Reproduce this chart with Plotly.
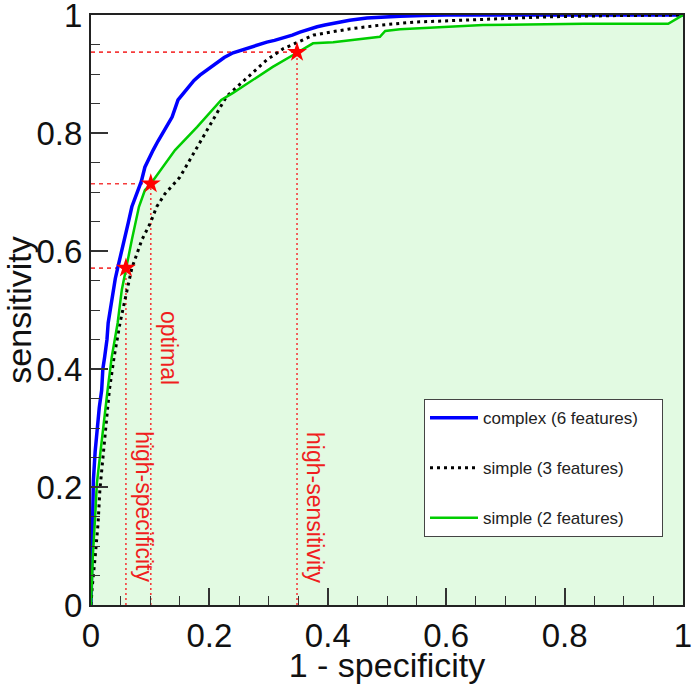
import plotly.graph_objects as go

# ---- data ----
complex_fpr = [0, 0.001, 0.002, 0.004, 0.007, 0.010, 0.014, 0.018, 0.020, 0.023, 0.027, 0.029, 0.033, 0.037,
               0.041, 0.045, 0.051, 0.057, 0.063, 0.069, 0.075, 0.080, 0.085, 0.091, 0.098, 0.105, 0.113,
               0.122, 0.130, 0.137, 0.142, 0.147, 0.155, 0.164, 0.174, 0.184, 0.197, 0.21, 0.225, 0.24,
               0.255, 0.269, 0.283, 0.297, 0.31, 0.324, 0.34, 0.353, 0.368, 0.382, 0.395, 0.409, 0.437,
               0.466, 0.494, 0.522, 0.56, 0.6, 1.0]
complex_tpr = [0, 0.08, 0.15, 0.21, 0.26, 0.30, 0.335, 0.364, 0.40, 0.42, 0.45, 0.478, 0.505, 0.534,
               0.553, 0.571, 0.595, 0.619, 0.648, 0.675, 0.692, 0.705, 0.718, 0.742, 0.758, 0.771, 0.786,
               0.800, 0.815, 0.827, 0.842, 0.856, 0.866, 0.878, 0.889, 0.898, 0.908, 0.918, 0.928, 0.936,
               0.941, 0.946, 0.950, 0.954, 0.957, 0.961, 0.966, 0.971, 0.976, 0.980, 0.983, 0.986, 0.991,
               0.995, 0.997, 0.998, 0.999, 1.0, 1.0]

simple3_fpr = [0, 0.002, 0.007, 0.012, 0.015, 0.020, 0.025, 0.031, 0.039, 0.049, 0.061, 0.069, 0.086,
               0.100, 0.111, 0.125, 0.150, 0.179, 0.206, 0.229, 0.263, 0.297, 0.325, 0.348, 0.376, 0.434,
               0.49, 0.547, 0.66, 0.775, 0.89, 1.0]
simple3_tpr = [0, 0.03, 0.081, 0.139, 0.195, 0.251, 0.308, 0.364, 0.42, 0.478, 0.534, 0.571, 0.619,
               0.647, 0.675, 0.697, 0.725, 0.776, 0.822, 0.862, 0.893, 0.924, 0.943, 0.954, 0.966, 0.976,
               0.983, 0.988, 0.993, 0.997, 0.999, 1.0]

simple2_fpr = [0, 0.003, 0.007, 0.010, 0.015, 0.021, 0.028, 0.035, 0.045, 0.052, 0.059, 0.069, 0.081,
               0.091, 0.101, 0.142, 0.179, 0.22, 0.24, 0.28, 0.307, 0.348, 0.375, 0.409, 0.488, 0.497,
               0.522, 0.662, 0.833, 0.975, 1.0]
simple2_tpr = [0, 0.081, 0.15, 0.207, 0.251, 0.308, 0.364, 0.42, 0.478, 0.534, 0.571, 0.619, 0.675,
               0.703, 0.714, 0.771, 0.81, 0.856, 0.868, 0.895, 0.912, 0.936, 0.952, 0.954, 0.963, 0.973,
               0.976, 0.983, 0.985, 0.985, 1.0]

op_names = ["high-specificity", "optimal", "high-sensitivity"]
op_fpr = [0.059, 0.101, 0.348]
op_tpr = [0.571, 0.714, 0.937]
op_label_y = [0.166, 0.436, 0.166]

series_names = ["complex (6 features)", "simple (3 features)", "simple (2 features)"]

tick_vals = [0, 0.2, 0.4, 0.6, 0.8, 1]
tick_text = ["0", "0.2", "0.4", "0.6", "0.8", "1"]

RED = "rgb(245,60,60)"
FONT = "Liberation Sans, Arial, sans-serif"
PAD = "\u00a0" * 4  # right padding inside the legend box

fig = go.Figure()

# green fill under the 2-feature curve
fig.add_trace(go.Scatter(x=simple2_fpr, y=simple2_tpr, mode="lines", line=dict(width=0),
                         fill="tozeroy", fillcolor="rgb(226,250,226)", showlegend=False,
                         hoverinfo="skip"))

# reference lines to operating points
vx, vy, hx, hy = [], [], [], []
for fx, ty in zip(op_fpr, op_tpr):
    vx += [fx, fx, None]
    vy += [0, ty, None]
    hx += [0, fx, None]
    hy += [ty, ty, None]
fig.add_trace(go.Scatter(x=vx, y=vy, mode="lines", line=dict(color=RED, width=1.6, dash="2px,3px"),
                         showlegend=False, hoverinfo="skip"))
fig.add_trace(go.Scatter(x=hx, y=hy, mode="lines", line=dict(color=RED, width=1.6, dash="4px,4px"),
                         showlegend=False, hoverinfo="skip"))

fig.add_trace(go.Scatter(x=complex_fpr, y=complex_tpr, mode="lines", name=series_names[0] + PAD,
                         line=dict(color="rgb(0,0,255)", width=3.5), legendgroup="a"))
fig.add_trace(go.Scatter(x=simple3_fpr, y=simple3_tpr, mode="lines", name=series_names[1] + PAD,
                         line=dict(color="black", width=3, dash="3px,4px"), legendgroup="b"))
fig.add_trace(go.Scatter(x=simple2_fpr, y=simple2_tpr, mode="lines", name=series_names[2] + PAD,
                         line=dict(color="rgb(0,205,0)", width=2.5), legendgroup="c"))

fig.add_trace(go.Scatter(x=op_fpr, y=op_tpr, mode="markers", showlegend=False,
                         marker=dict(symbol="star", size=15, color="rgb(255,0,0)", line=dict(width=0))))

for name, fx, ly in zip(op_names, op_fpr, op_label_y):
    fig.add_annotation(x=fx, y=ly, xref="x", yref="y", text=name, showarrow=False,
                       textangle=90, xshift=18, font=dict(family=FONT, size=23, color="rgb(240,30,30)"))

axis_common = dict(
    range=[0, 1], tickvals=tick_vals, ticktext=tick_text, ticks="inside", ticklen=17, tickwidth=1.5,
    tickcolor="#333", showline=True, linecolor="#222", linewidth=2, mirror=True, showgrid=False,
    zeroline=False, tickfont=dict(family=FONT, size=33, color="#111"), automargin=False,
    ticklabeloverflow="allow",
    minor=dict(dtick=0.05, ticks="inside", ticklen=9, tickwidth=1.2, tickcolor="#333", showgrid=False),
)

fig.update_xaxes(**axis_common, title=dict(text="1 - specificity", font=dict(family=FONT, size=34, color="#111"),
                                          standoff=0))
fig.update_yaxes(**axis_common, title=dict(text="sensitivity", font=dict(family=FONT, size=34, color="#111"),
                                          standoff=4))

fig.update_layout(
    width=696, height=684,
    margin=dict(l=91, r=13, t=15, b=79),
    plot_bgcolor="white", paper_bgcolor="white",
    legend=dict(x=0.5625, y=0.349, xanchor="left", yanchor="top", bgcolor="white",
                bordercolor="#444", borderwidth=1, font=dict(family=FONT, size=17, color="#222"),
                tracegroupgap=25, itemwidth=48),
)

fig.write_html("out.html", config={"displayModeBar": False},
               post_script="document.body.style.margin='0';document.body.style.overflow='hidden';")
